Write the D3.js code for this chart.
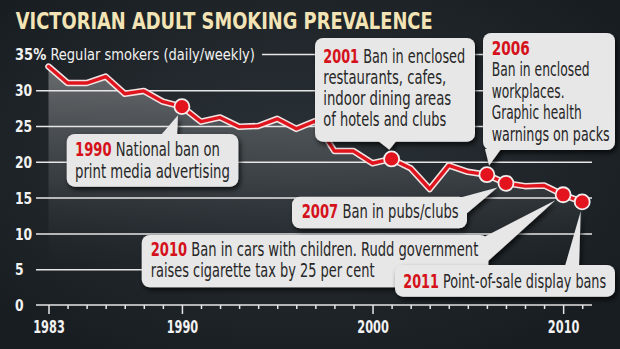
<!DOCTYPE html>
<html><head><meta charset="utf-8">
<script src="https://cdn.jsdelivr.net/npm/d3@7"></script>
<style>html,body{margin:0;padding:0;background:#1b2126;}svg{display:block}</style>
</head><body><svg id="c" width="620" height="349"></svg>
<script>
// ---------- DATA ----------
const years = [1983,1984,1985,1986,1987,1988,1989,1990,1991,1992,1993,1994,1995,1996,1997,1998,1999,2000,2001,2002,2003,2004,2005,2006,2007,2008,2009,2010,2011];
const prevalence = [33.3,31.0,31.0,31.9,29.5,29.9,28.4,27.7,25.6,26.2,24.9,25.0,26.0,24.6,25.7,21.5,21.5,19.8,20.4,19.1,16.2,19.5,18.6,18.2,17.0,16.6,16.7,15.4,14.4];
const yTicks = [0,5,10,15,20,25,30];
const yTopTick = 35;
const xLabelYears = [1983,1990,2000,2010];
const titleText = "VICTORIAN ADULT SMOKING PREVALENCE";
const yTitle = ["35%", " Regular smokers (daily/weekly)"];
const eventYears = [1990,2001,2006,2007,2010,2011];
const eventTexts = [
  [["1990"," National ban on"],["","print media advertising"]],
  [["2001"," Ban in enclosed"],["","restaurants, cafes,"],["","indoor dining areas"],["","of hotels and clubs"]],
  [["2006",""],["","Ban in enclosed"],["","workplaces."],["","Graphic health"],["","warnings on packs"]],
  [["2007"," Ban in pubs/clubs"]],
  [["2010"," Ban in cars with children. Rudd government"],["","raises cigarette tax by 25 per cent"]],
  [["2011"," Point-of-sale display bans"]]
];

// ---------- LAYOUT ----------
const W = 620, H = 349;
const FONT = "'DejaVu Sans Condensed','DejaVu Sans',sans-serif";
const BOX_FONT = 19.5;
const boxLayout = {
  1990:{x:66.7,y:134,w:171.6,h:52.7,tx:75,base:[156,177.5],lw:[145,155],ptr:[[161,135],[177,135]]},
  2001:{x:315,y:38,w:160,h:103.7,tx:323.3,base:[62.5,83.8,105.1,126.4],lw:[142,123,128,123],ptr:[[377,140],[397,140]]},
  2006:{x:483,y:33,w:132,h:117,tx:491.7,base:[55,76.4,97.8,119.2,140.6],lw:[38,98,73,90,118],ptr:[[485,149],[501,149]]},
  2007:{x:292,y:196.7,w:175,h:31.6,tx:301.7,base:[218.3],lw:[157],ptr:[[455,199],[466,214]]},
  2010:{x:141.7,y:235,w:346.6,h:52.3,tx:150.7,base:[255.5,277],lw:[328,224],ptr:[[484,237],[487,262]]},
  2011:{x:395,y:265,w:220,h:31.7,tx:403.3,base:[288.3],lw:[203],ptr:[[565,266],[579,266]]}
};

const svg = d3.select("#c");
const defs = svg.append("defs");
const bg = defs.append("radialGradient").attr("id","bg").attr("cx","48%").attr("cy","45%").attr("r","65%");
bg.append("stop").attr("offset","0%").attr("stop-color","#2b3237");
bg.append("stop").attr("offset","100%").attr("stop-color","#181d21");
const ag = defs.append("linearGradient").attr("id","area").attr("gradientUnits","userSpaceOnUse")
  .attr("x1",0).attr("y1",55).attr("x2",0).attr("y2",265);
ag.append("stop").attr("offset","0%").attr("stop-color","#74777a").attr("stop-opacity",0.95);
ag.append("stop").attr("offset","60%").attr("stop-color","#474c50").attr("stop-opacity",0.6);
ag.append("stop").attr("offset","100%").attr("stop-color","#2a3035").attr("stop-opacity",0);
const sh = defs.append("filter").attr("id","shadow").attr("x","-20%").attr("y","-20%").attr("width","140%").attr("height","150%");
sh.append("feDropShadow").attr("dx",2).attr("dy",3).attr("stdDeviation",2.5).attr("flood-color","#000").attr("flood-opacity",0.7);

svg.append("rect").attr("width",W).attr("height",H).attr("fill","url(#bg)");

const x = d3.scaleLinear().domain([1983,2011]).range([48.5,582.2]);
const y = d3.scaleLinear().domain([0,35]).range([305,54.4]);
const data = years.map((yr,i)=>({year:yr,v:prevalence[i]}));

function fitText(g, tx, ty, parts, size, targetW){
  const t = g.append("text").attr("font-family",FONT).attr("font-size",size);
  parts.forEach(p=>{ if(p.text!=="") t.append("tspan").text(p.text).attr("fill",p.fill).attr("font-weight",p.weight||"normal"); });
  const w = t.node().getComputedTextLength();
  t.attr("transform",`translate(${tx},${ty}) scale(${targetW/w},1)`);
  return t;
}

// title
fitText(svg, 15.8, 29.3, [{text:titleText, fill:"#f3e4b6", weight:"bold"}], 23, 417);

// area
svg.append("path").datum(data)
  .attr("d", d3.area().x(d=>x(d.year)).y0(y(0)).y1(d=>y(d.v)))
  .attr("fill","url(#area)");

// y axis gridlines
const yAxis = d3.axisLeft(y).tickValues(yTicks).tickSize(-(592-36)).tickFormat(d3.format("d"));
const yg = svg.append("g").attr("transform","translate(36,0)").call(yAxis);
yg.select(".domain").remove();
yg.selectAll(".tick line").attr("stroke","#e6e6e6").attr("stroke-width",1.5);
yg.selectAll(".tick text").each(function(){
  const t = d3.select(this);
  t.attr("x",null).attr("text-anchor","start").attr("fill","#f2f2f2").attr("font-family",FONT)
   .attr("font-weight","bold").attr("font-size",16).attr("dy","0.36em");
  const w = this.getComputedTextLength();
  const target = t.text().length*8.6;
  t.attr("transform",`translate(-21,0) scale(${target/w},1)`);
});
yg.selectAll(".tick").filter(d=>d===0).select("line").remove();

// 35 line
svg.append("line").attr("x1",262).attr("x2",592).attr("y1",y(yTopTick)).attr("y2",y(yTopTick))
  .attr("stroke","#e6e6e6").attr("stroke-width",1.5);
fitText(svg, 15, y(yTopTick)+5.8, [{text:yTitle[0],fill:"#f2f2f2",weight:"bold"},{text:yTitle[1],fill:"#f2f2f2"}], 16, 240);

// x axis
const xAxis = d3.axisBottom(x).tickValues(years).tickSize(4).tickPadding(14)
  .tickFormat(d=> xLabelYears.includes(d) ? String(d) : "");
const xg = svg.append("g").attr("transform",`translate(0,${y(0)})`).call(xAxis);
xg.select(".domain").remove();
xg.append("line").attr("x1",36).attr("x2",592).attr("y1",0).attr("y2",0)
  .attr("stroke","#e6e6e6").attr("stroke-width",1.5);
xg.selectAll(".tick line").attr("stroke","#e6e6e6").attr("stroke-width",1.5)
  .attr("y2",d=>xLabelYears.includes(d)?9:4);
xg.selectAll(".tick text").each(function(){
  const t = d3.select(this);
  t.attr("fill","#f2f2f2").attr("font-family",FONT).attr("font-weight","bold").attr("font-size",17)
   .attr("y",null).attr("dy",null).attr("text-anchor","middle");
  const w = this.getComputedTextLength();
  if(w>0){ const target = t.text().length*7.9; t.attr("transform",`translate(0,28) scale(${target/w},1)`); }
});

// line
const lineGen = d3.line().x(d=>x(d.year)).y(d=>y(d.v));
svg.append("path").datum(data).attr("d",lineGen).attr("fill","none")
  .attr("stroke","#f1e4e4").attr("stroke-width",6.5).attr("stroke-linejoin","round").attr("stroke-linecap","round");
svg.append("path").datum(data).attr("d",lineGen).attr("fill","none")
  .attr("stroke","#e0141d").attr("stroke-width",3.4).attr("stroke-linejoin","round").attr("stroke-linecap","round");

// annotation boxes
const R = 7.5;
eventYears.forEach((yr,i)=>{
  const L = boxLayout[yr];
  const v = prevalence[years.indexOf(yr)];
  const cx = x(yr), cy = y(v);
  const mx = (L.ptr[0][0]+L.ptr[1][0])/2, my = (L.ptr[0][1]+L.ptr[1][1])/2;
  const dx = mx-cx, dy = my-cy, dl = Math.hypot(dx,dy);
  const ax = cx + dx/dl*(R+2), ay = cy + dy/dl*(R+2);
  const g = svg.append("g").attr("filter","url(#shadow)");
  g.append("rect").attr("x",L.x).attr("y",L.y).attr("width",L.w).attr("height",L.h).attr("rx",8)
    .attr("fill","#e7e7e7");
  g.append("path").attr("d",`M${L.ptr[0][0]},${L.ptr[0][1]}L${ax},${ay}L${L.ptr[1][0]},${L.ptr[1][1]}Z`).attr("fill","#e7e7e7");
  const tg = svg.append("g");
  eventTexts[i].forEach((ln,j)=>{
    fitText(tg, L.tx, L.base[j], [{text:ln[0],fill:"#d5121b",weight:"bold"},{text:ln[1],fill:"#262626"}], BOX_FONT, L.lw[j]);
  });
});

// dots
svg.selectAll("circle.ev").data(eventYears).join("circle").attr("class","ev")
  .attr("cx",d=>x(d)).attr("cy",d=>y(prevalence[years.indexOf(d)])).attr("r",R)
  .attr("fill","#e3141d").attr("stroke","#f4eded").attr("stroke-width",1.8);
</script>
</body></html>
